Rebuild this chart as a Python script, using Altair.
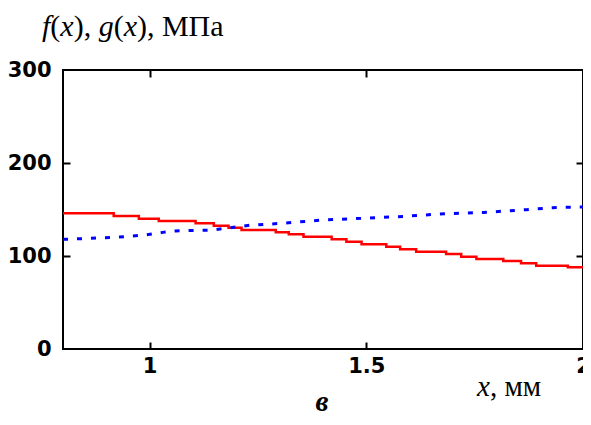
import altair as alt
import pandas as pd

# ---- data ----
red_x = [0.800, 0.917, 0.975, 1.021, 1.106, 1.148, 1.182, 1.212, 1.291, 1.321,
         1.355, 1.420, 1.454, 1.489, 1.546, 1.578, 1.615, 1.684, 1.719, 1.754,
         1.816, 1.857, 1.892, 1.965, 2.000]
red_y = [145.9, 143.0, 140.1, 137.6, 135.2, 132.6, 130.4, 128.0, 125.5, 123.3,
         120.8, 118.0, 115.4, 112.6, 110.0, 107.2, 104.7, 102.2, 99.2, 96.8,
         94.6, 92.2, 89.6, 87.8, 87.8]

blue_x = [0.80, 0.88, 0.93, 0.99, 1.03, 1.06, 1.14, 1.18, 1.23, 1.30, 1.40,
          1.49, 1.59, 1.68, 1.77, 1.87, 1.93, 2.00]
blue_y = [117.9, 119.3, 120.4, 122.6, 125.4, 127.0, 127.8, 130.0, 133.0, 135.0,
          138.7, 140.5, 142.7, 145.5, 146.8, 149.8, 152.0, 152.7]

x_label_values = [1, 1.5, 2]
y_label_values = [0, 100, 200, 300]
x_tick_values = [1, 1.5]
y_tick_values = [100, 200]

W, H = 520, 279
FS = 30
SERIF = "Liberation Serif"
TICKFONT = "DejaVu Sans"
TFS = 21

red_df = pd.DataFrame({"x": red_x, "y": red_y})
blue_df = pd.DataFrame({"x": blue_x, "y": blue_y})

xs = alt.Scale(domain=[0.8, 2.0], nice=False, zero=False)
ys = alt.Scale(domain=[0, 300], nice=False, zero=False)

main_x_axis = alt.Axis(orient="bottom", values=x_label_values, ticks=False, domain=False,
                       grid=False, title=None, labelFont=TICKFONT, labelFontWeight="bold",
                       labelFontSize=TFS, labelColor="black", labelPadding=6,
                       labelFlush=False, labelOverlap=False, format=".1~f")
main_y_axis = alt.Axis(orient="left", values=y_label_values, ticks=False, domain=False,
                       grid=False, title=None, labelFont=TICKFONT, labelFontWeight="bold",
                       labelFontSize=TFS, labelColor="black", labelPadding=12,
                       labelFlush=False, labelOverlap=False, format="d")


def tick_axis(orient, values, offset):
    return alt.Axis(orient=orient, values=values, labels=False, domain=False, grid=False,
                    title=None, ticks=True, tickSize=7, tickWidth=2, tickColor="black",
                    offset=offset)


red = alt.Chart(red_df).mark_line(interpolate="step-after", color="#ff0000",
                                  strokeWidth=2.5).encode(
    x=alt.X("x:Q", scale=xs, axis=main_x_axis),
    y=alt.Y("y:Q", scale=ys, axis=main_y_axis),
)

blue = alt.Chart(blue_df).mark_line(color="#0000ff", strokeWidth=3,
                                    strokeDash=[5, 9]).encode(
    x=alt.X("x:Q", scale=xs, axis=tick_axis("top", x_tick_values, -H)),
    y=alt.Y("y:Q", scale=ys, axis=tick_axis("right", y_tick_values, -W)),
)

ghost = alt.Chart(red_df).mark_line(opacity=0).encode(
    x=alt.X("x:Q", scale=xs, axis=tick_axis("bottom", x_tick_values, -H)),
    y=alt.Y("y:Q", scale=ys, axis=tick_axis("left", y_tick_values, -W)),
)


def piece(text, x, y, style="normal", weight="normal", align="left", size=FS):
    return alt.Chart(pd.DataFrame({"t": [text]})).mark_text(
        align=align, baseline="alphabetic", font=SERIF, fontSize=size,
        fontStyle=style, fontWeight=weight, color="black"
    ).encode(text="t:N", x=alt.value(x), y=alt.value(y))


# title pieces: (text, style, em width)
title_pieces = [("f", "italic", 0.278), ("(", "normal", 0.333), ("x", "italic", 0.444),
                ("), ", "normal", 0.833), ("g", "italic", 0.5), ("(", "normal", 0.333),
                ("x", "italic", 0.444), ("), МПа", "normal", 2.888)]
texts = []
cx = -21
for t, st, w in title_pieces:
    texts.append(piece(t, cx, -34, st))
    cx += w * FS

texts.append(piece("x", 414, 326, "italic", size=29))
texts.append(piece(", мм", 414 + 0.444 * 29, 326, "normal", size=29))
texts.append(piece("в", 259, 341, "italic", "bold", "center", size=29))

chart = alt.layer(red, blue, ghost, *texts).resolve_scale(
    x="shared", y="shared"
).resolve_axis(
    x="independent", y="independent"
).properties(
    width=W, height=H,
    autosize=alt.AutoSizeParams(type="none"),
    padding={"left": 55, "top": 62, "right": 0, "bottom": 68},
).configure_view(stroke="black", strokeWidth=2)

chart.save("out.html", embed_options={"renderer": "svg", "actions": False})
